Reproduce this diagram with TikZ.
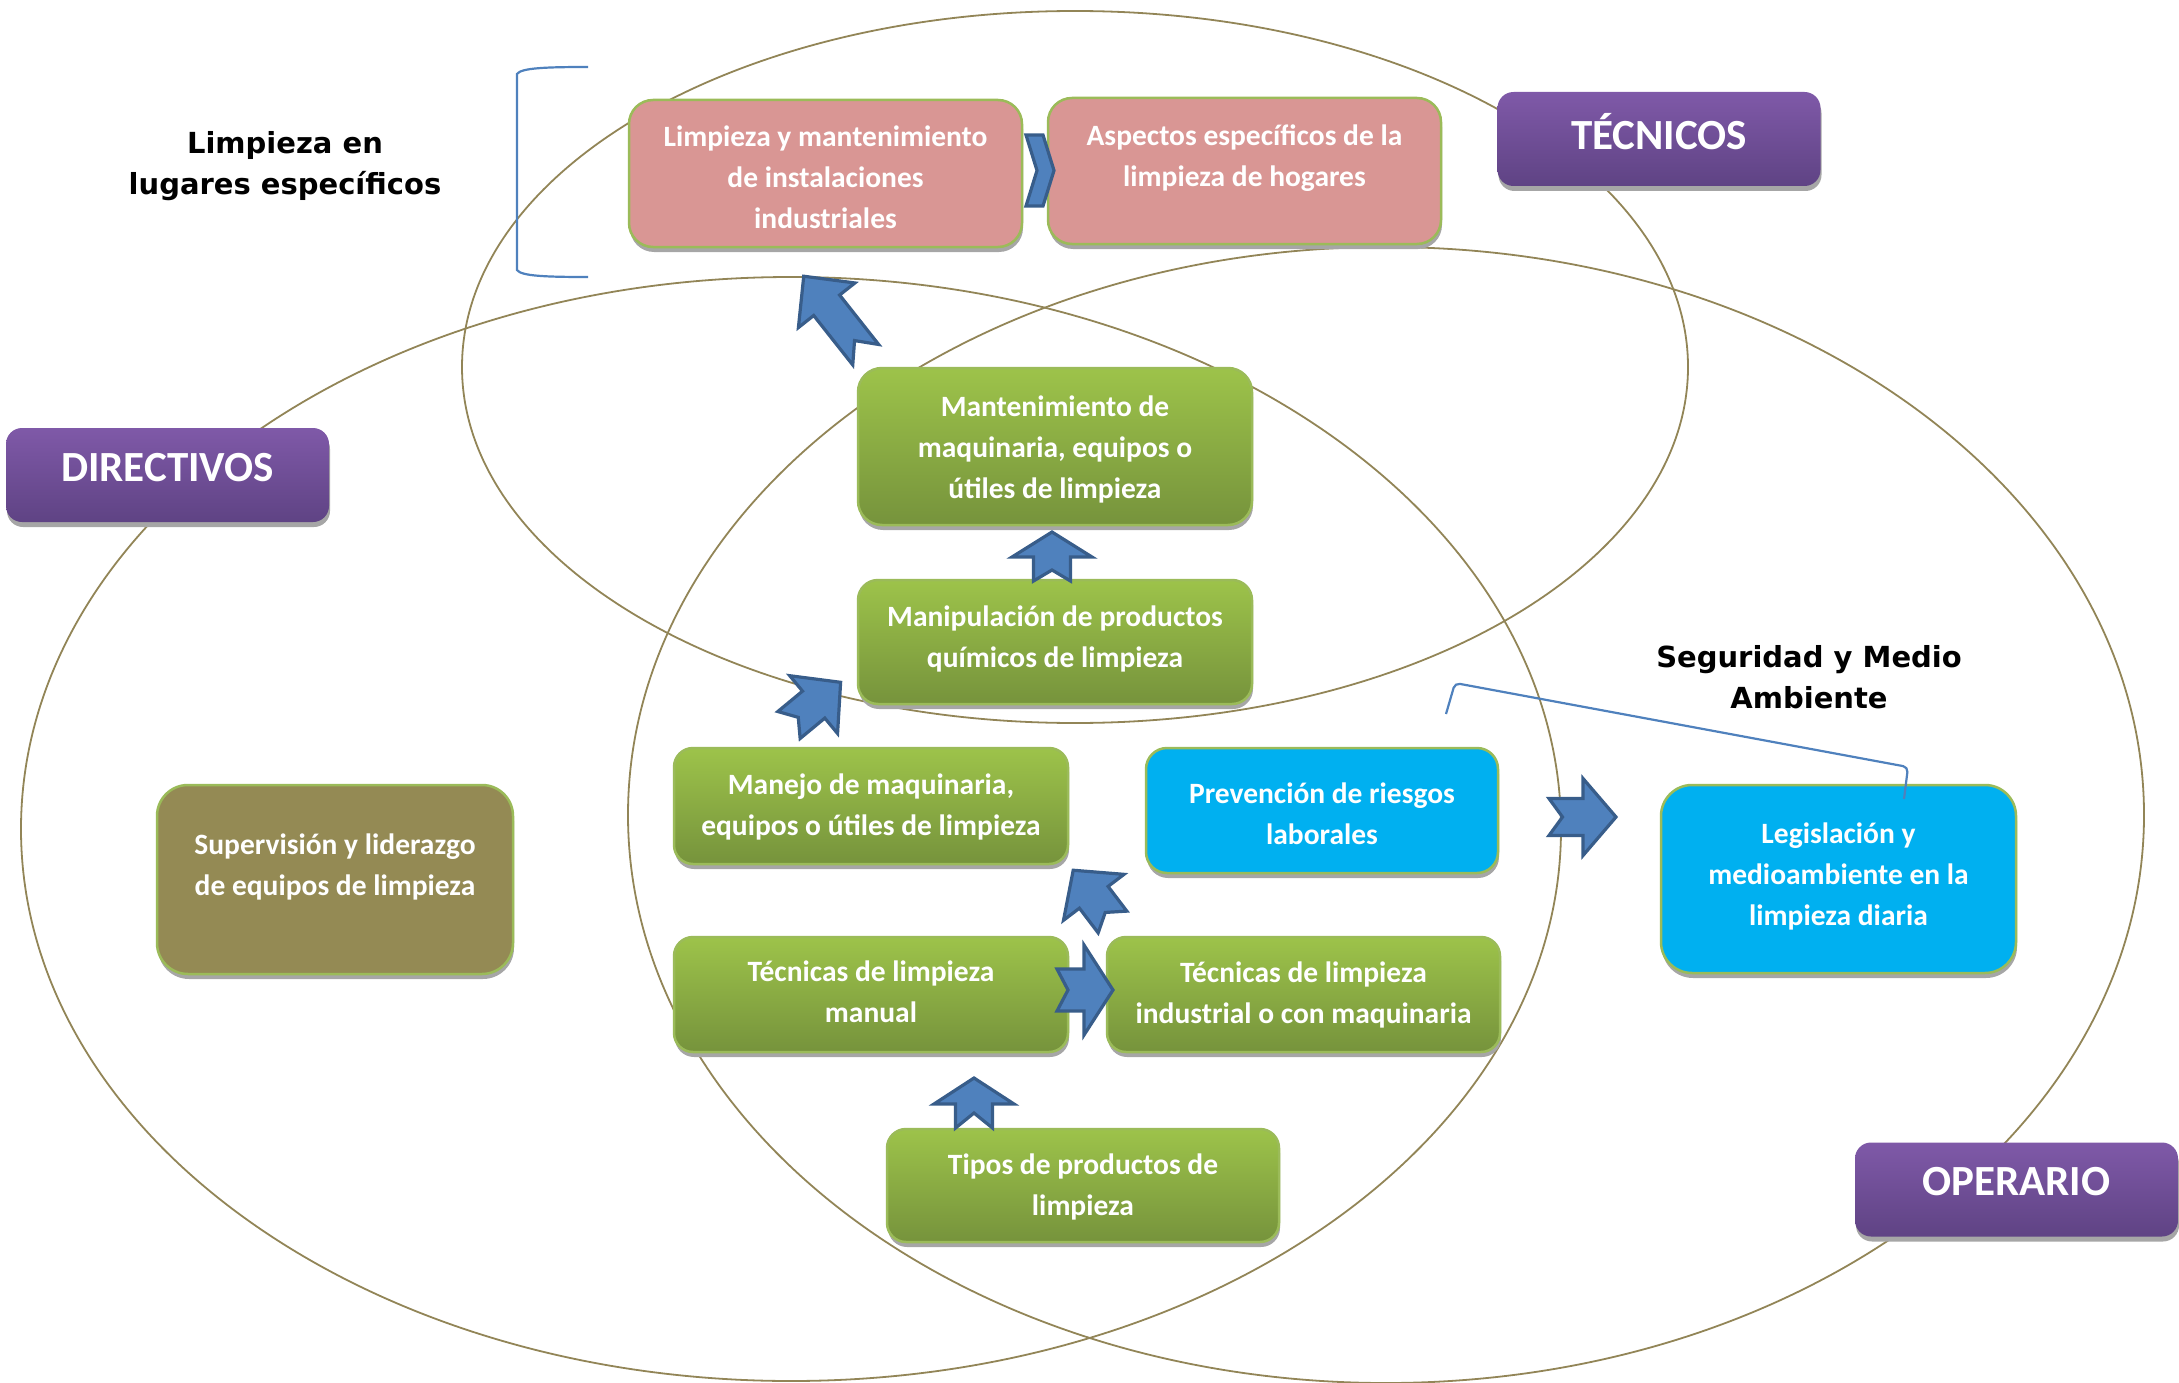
\documentclass[tikz,border=0pt]{standalone}
\usepackage{fontspec}
\setmainfont{Carlito}
\newfontfamily\dejavu{DejaVu Sans}
\usetikzlibrary{shadows}
\definecolor{ellcol}{HTML}{928557}
\definecolor{arrfill}{HTML}{4F81BD}
\definecolor{arrline}{HTML}{385D8A}
\definecolor{pinkfill}{HTML}{D99694}
\definecolor{boxline}{HTML}{9BBB59}
\definecolor{greentop}{HTML}{9DC34A}
\definecolor{greenbot}{HTML}{76933C}
\definecolor{bluefill}{HTML}{00B0F0}
\definecolor{olivefill}{HTML}{948A54}
\definecolor{purptop}{HTML}{7F59A8}
\definecolor{purpbot}{HTML}{5F4384}
\definecolor{shadowgray}{HTML}{A6A6A6}
\definecolor{brkcol}{HTML}{4F81BD}
\newcommand\blockarrow[8]{%
  \draw[barrow, shift={(#1,#2)}, rotate=#3]
    (0,-#7) -- (#4-#5,-#7) -- (#4-#5,-#6) -- (#4,0) -- (#4-#5,#6) -- (#4-#5,#7) -- (0,#7) -- (#8,0) -- cycle;}
\begin{document}
\begin{tikzpicture}[x=1pt,y=-1pt,
  ell/.style={draw=ellcol, line width=1.8pt},
  shd/.style={drop shadow={shadow xshift=1pt, shadow yshift=-5pt, opacity=1, fill=shadowgray}},
  sz/.style 2 args={minimum width=#1pt, minimum height=#2pt},
  box/.style={rounded corners=#1, line width=2.5pt, draw=boxline, inner sep=0pt, shd},
  boxtxt/.style={align=center, text=white, font=\bfseries\fontsize{29.5}{41}\selectfont, inner sep=0pt},
  pinkbox/.style={box=#1, fill=pinkfill},
  greenbox/.style={box=#1, top color=greentop, bottom color=greenbot},
  bluebox/.style={box=#1, fill=bluefill},
  olivebox/.style={box=#1, fill=olivefill},
  purpbox/.style={rounded corners=16pt, draw=none, top color=purptop, bottom color=purpbot,
    text=white, font=\bfseries\fontsize{43}{50}\selectfont, minimum width=323pt,
    minimum height=94pt, text depth=16pt, inner sep=0pt, shd},
  lbl/.style={align=center, text=black, font=\dejavu\bfseries\fontsize{29}{41}\selectfont},
  barrow/.style={fill=arrfill, draw=arrline, line width=3.2pt, line join=miter},
  brk/.style={draw=brkcol, line width=2.2pt}
]
\useasboundingbox (0,0) rectangle (2179,1383);

% circles of the groups
\draw[ell] (1075,367) ellipse [x radius=613pt, y radius=356pt];
\draw[ell] (791,829) ellipse [x radius=770pt, y radius=552pt];
\draw[ell] (1386,815) ellipse [x radius=758pt, y radius=568pt];

% group titles
\node[purpbox] (tec) at (1659,139) {TÉCNICOS};
\node[purpbox] (dir) at (167.5,475) {DIRECTIVOS};
\node[purpbox] (ope) at (2016.5,1189.5) {OPERARIO};

% boxes
\node[pinkbox=24pt, sz={393}{147}] (lim) at (825.5,173.5) {};
\node[boxtxt, yshift=-4pt] (limT) at (lim) {Limpieza y mantenimiento\\de instalaciones\\industriales};
\node[pinkbox=24pt, sz={393}{146}] (asp) at (1244.5,171) {};
\node[boxtxt, yshift=-5pt] (aspT) at (asp) {Aspectos específicos de la\\limpieza de hogares\\\mbox{}};
\node[greenbox=24pt, sz={394}{157}] (mant) at (1055,446.5) {};
\node[boxtxt, yshift=-3pt] (mantT) at (mant) {Mantenimiento de\\maquinaria, equipos o\\útiles de limpieza};
\node[greenbox=20pt, sz={394}{124}] (manip) at (1055,642) {};
\node[boxtxt, yshift=3.5pt] (manipT) at (manip) {Manipulación de productos\\químicos de limpieza};
\node[greenbox=19pt, sz={394}{116}] (manejo) at (871,806) {};
\node[boxtxt, yshift=-1pt] (manejoT) at (manejo) {Manejo de maquinaria,\\equipos o útiles de limpieza};
\node[bluebox=21pt, sz={352}{125}] (prev) at (1322,810.5) {};
\node[boxtxt, yshift=-3pt] (prevT) at (prev) {Prevención de riesgos\\laborales};
\node[greenbox=19pt, sz={394}{115}] (tman) at (871,994.5) {};
\node[boxtxt, yshift=3pt] (tmanT) at (tman) {Técnicas de limpieza\\manual};
\node[greenbox=19pt, sz={393}{115}] (tind) at (1303.5,994.5) {};
\node[boxtxt] (tindT) at (tind) {Técnicas de limpieza\\industrial o con maquinaria};
\node[greenbox=19pt, sz={392}{113}] (tipos) at (1083,1185.5) {};
\node[boxtxt, yshift=-1pt] (tiposT) at (tipos) {Tipos de productos de\\limpieza};
\node[olivebox=31pt, sz={356}{189}] (sup) at (335,879.5) {};
\node[boxtxt, yshift=-5.5pt] (supT) at (sup) {Supervisión y liderazgo\\de equipos de limpieza\\\mbox{}};
\node[bluebox=31pt, sz={355}{188}] (leg) at (1838.5,879) {};
\node[boxtxt, yshift=3pt] (legT) at (leg) {Legislación y\\medioambiente en la\\limpieza diaria};

% block arrows
\blockarrow{865.7}{354.7}{128.3}{100}{37}{36}{16.5}{18}
\blockarrow{1052}{581}{90}{49}{25}{40}{18.5}{11}
\blockarrow{789}{725}{39.6}{67}{35}{37.5}{17.5}{12}
\blockarrow{1112.5}{922}{127.2}{65}{34}{38}{18}{12}
\blockarrow{1057}{990}{0}{56}{29}{45}{21}{11}
\blockarrow{974}{1128}{90}{50}{26}{40}{18.5}{15}
\blockarrow{1549}{817}{0}{67}{33}{38.5}{18.5}{13.5}
\draw[barrow] (1026,135) -- (1043,135) -- (1054,170.5) -- (1043,206) -- (1026,206) -- (1037,170.5) -- cycle;

% side labels and brackets
\node[lbl] (lblL) at (285,166) {Limpieza en\\lugares específicos};
\node[lbl] (lblS) at (1809,677) {Seguridad y Medio\\Ambiente};
\draw[brk] (588,67) .. controls (545,67) and (521,68) .. (517,74) -- (517,270) .. controls (521,276) and (545,277) .. (588,277);
\draw[brk, rounded corners=5pt] (1446,714) -- (1455,683) -- (1908,767) -- (1904,799);
\end{tikzpicture}
\end{document}
